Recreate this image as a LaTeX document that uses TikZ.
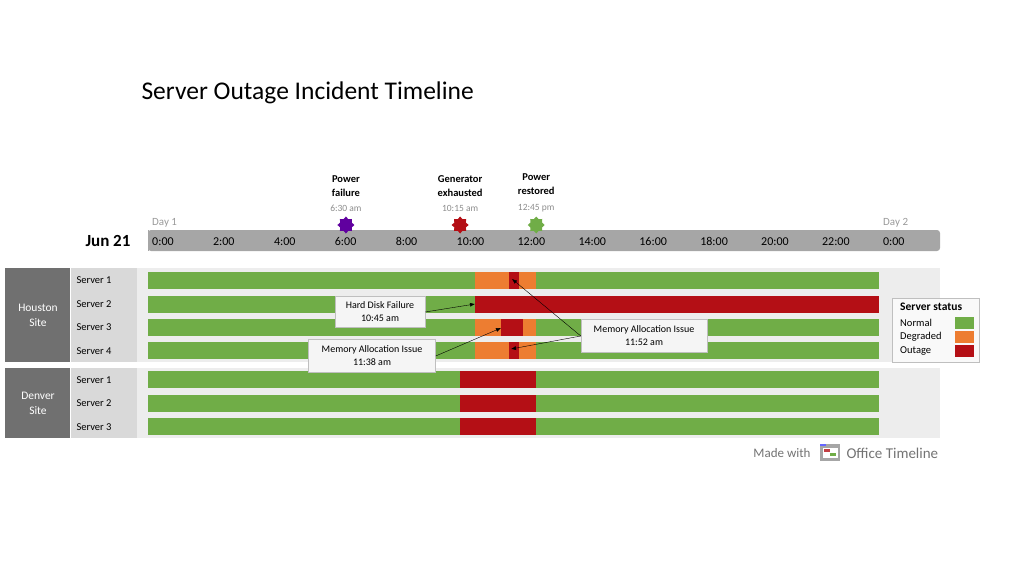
\documentclass[tikz,border=0pt]{standalone}
\usepackage{fontspec}
\setmainfont{Carlito}
\usetikzlibrary{positioning,calc,shapes.geometric,arrows.meta}
\definecolor{okgreen}{HTML}{70AD47}
\definecolor{degorange}{HTML}{ED7D31}
\definecolor{outred}{HTML}{B40F15}
\definecolor{axisgray}{HTML}{A6A6A6}
\definecolor{sitegray}{HTML}{707070}
\definecolor{rowgray}{HTML}{D9D9D9}
\definecolor{bggray}{HTML}{EDEDED}
\newcommand \hx[1]{148+30.45*#1}
% one status segment: row top, from hour, to hour, colour
\newcommand \seg[4]{\fill[#4] ({\hx{#2}},#1) rectangle ({\hx{#3}},#1+17);}
\tikzset{
  rowlabel/.style={font=\fontsize{10.5}{12}\selectfont, anchor=west},
  callout/.style={draw=gray!50, fill=gray!8, align=center, font=\fontsize{10}{13}\selectfont, inner sep=3pt},
  mstone/.style={star, star points=8, star point ratio=1.35, minimum size=17pt, inner sep=0pt},
  msttl/.style={font=\bfseries\fontsize{10.5}{14}\selectfont, align=center},
  msttime/.style={font=\fontsize{9.5}{11}\selectfont, text=gray!90},
  pointer/.style={-{Latex[length=5pt,width=4pt]}, thin}
}
\begin{document}
\begin{tikzpicture}[x=1pt, y=-1pt]
\useasboundingbox (0,0) rectangle (1024,576);
\node[anchor=west, font=\fontsize{25.5}{28}\selectfont] (title) at (138,93) {Server Outage Incident Timeline};
% time axis
\fill[axisgray, rounded corners=3pt] (148,230) rectangle (940,251);
\foreach \h in {0,2,...,22} {
  \draw[gray!70] ({\hx{\h}},230) -- ({\hx{\h}},251);
  \node[anchor=base west, font=\fontsize{12}{14}\selectfont, inner sep=1pt] (t\h) at ({\hx{\h}+3},245) {\h:00};
}
\node[anchor=base west, font=\fontsize{12}{14}\selectfont, inner sep=1pt] (t24) at ({\hx{24}+3},245) {0:00};
\node[anchor=west, font=\fontsize{11}{12}\selectfont, text=gray!80, inner sep=1pt] (day1) at (151,223) {Day 1};
\node[anchor=west, font=\fontsize{11}{12}\selectfont, text=gray!80, inner sep=1pt] (day2) at (882,223) {Day 2};
\node[anchor=east, font=\bfseries\fontsize{17}{19}\selectfont] (date) at (134,241) {Jun 21};
% milestones
\node[mstone, fill=violet!75!blue] (m1) at ({\hx{6.5}},225) {};
\node[mstone, fill=outred] (m2) at ({\hx{10.25}},225) {};
\node[mstone, fill=okgreen] (m3) at ({\hx{12.75}},225) {};
\foreach \m/\t/\w in {m1/{Power\\failure}/6:30 am, m2/{Generator\\exhausted}/10:15 am, m3/{Power\\restored}/12:45 pm} {
  \node[msttime, above=1pt of \m] (\m time) {\w};
  \node[msttl, above=2pt of \m time] (\m ttl) {\t};
}
% background lanes
\fill[bggray] (137,268) rectangle (940,362);
\fill[bggray] (137,368) rectangle (940,438);
\fill[sitegray] (5,268) rectangle (70,362);
\fill[sitegray] (5,368) rectangle (70,438);
\fill[rowgray] (71,268) rectangle (137,362);
\fill[rowgray] (71,368) rectangle (137,438);
\node[text=white, align=center, font=\fontsize{11.5}{15}\selectfont] (houston) at (38,315) {Houston\\Site};
\node[text=white, align=center, font=\fontsize{11.5}{15}\selectfont] (denver) at (38,403) {Denver\\Site};
\foreach \y/\n [count=\i] in {280/1,304/2,327/3,351/4}
  \node[rowlabel] (h\i) at (73,\y) {Server \n};
\foreach \y/\n [count=\i] in {380/1,403/2,427/3}
  \node[rowlabel] (d\i) at (73,\y) {Server \n};
% Houston bars
\seg{272}{0}{10.75}{okgreen} \seg{272}{10.75}{11.87}{degorange} \seg{272}{11.87}{12.17}{outred} \seg{272}{12.17}{12.75}{degorange} \seg{272}{12.75}{24}{okgreen}
\seg{296}{0}{10.75}{okgreen} \seg{296}{10.75}{24}{outred}
\seg{319}{0}{10.75}{okgreen} \seg{319}{10.75}{11.6}{degorange} \seg{319}{11.6}{12.3}{outred} \seg{319}{12.3}{12.75}{degorange} \seg{319}{12.75}{24}{okgreen}
\seg{342}{0}{10.75}{okgreen} \seg{342}{10.75}{11.87}{degorange} \seg{342}{11.87}{12.17}{outred} \seg{342}{12.17}{12.75}{degorange} \seg{342}{12.75}{24}{okgreen}
% Denver bars
\foreach \y in {371,395,418} {
  \seg{\y}{0}{10.25}{okgreen} \seg{\y}{10.25}{12.75}{outred} \seg{\y}{12.75}{24}{okgreen}
}
% callouts
\coordinate (hdd) at (475,304);
\coordinate (mem3) at (501,328);
\coordinate (mem1) at (512,279);
\coordinate (mem4) at (511,349);
\node[callout, minimum width=90pt, minimum height=31pt] (c1) at (380,312) {Hard Disk Failure\\10:45 am};
\node[callout, minimum width=127pt, minimum height=33pt] (c2) at (372,356) {Memory Allocation Issue\\11:38 am};
\node[callout, minimum width=126pt, minimum height=33pt] (c3) at (644,336) {Memory Allocation Issue\\11:52 am};
\draw[pointer] (c1.east) -- (hdd);
\draw[pointer] (c2.east) -- (mem3);
\draw[pointer] (c3.west) -- (mem1);
\draw[pointer] (c3.west) -- (mem4);
% legend
\node[draw=gray!50, fill=gray!5, minimum width=87pt, minimum height=64pt] (legend) at (936,330) {};
\node[anchor=north west, font=\bfseries\fontsize{11.5}{13}\selectfont, inner sep=0pt] (lgttl) at (900,303) {Server status};
\foreach \t/\c/\y in {Normal/okgreen/323, Degraded/degorange/337, Outage/outred/351} {
  \node[anchor=west, font=\fontsize{10.5}{12}\selectfont, inner sep=0pt] (lg\t) at (900,\y) {\t};
  \fill[\c] (955,\y-6) rectangle (974,\y+6);
}
% footer
\node[anchor=east, font=\fontsize{13}{15}\selectfont, text=gray!90!black] (made) at (814,453) {Made with};
\fill[gray!70] (820,444) rectangle (840,461);
\fill[white] (823,448) rectangle (838,458);
\fill[outred!80] (824,449) rectangle (830,452);
\fill[okgreen] (830,453) rectangle (836,456);
\fill[blue!60] (820,444) rectangle (826,446);
\node[anchor=west, font=\fontsize{15}{17}\selectfont, text=gray!90!black] (office) at (843,453) {Office Timeline};
\end{tikzpicture}
\end{document}
